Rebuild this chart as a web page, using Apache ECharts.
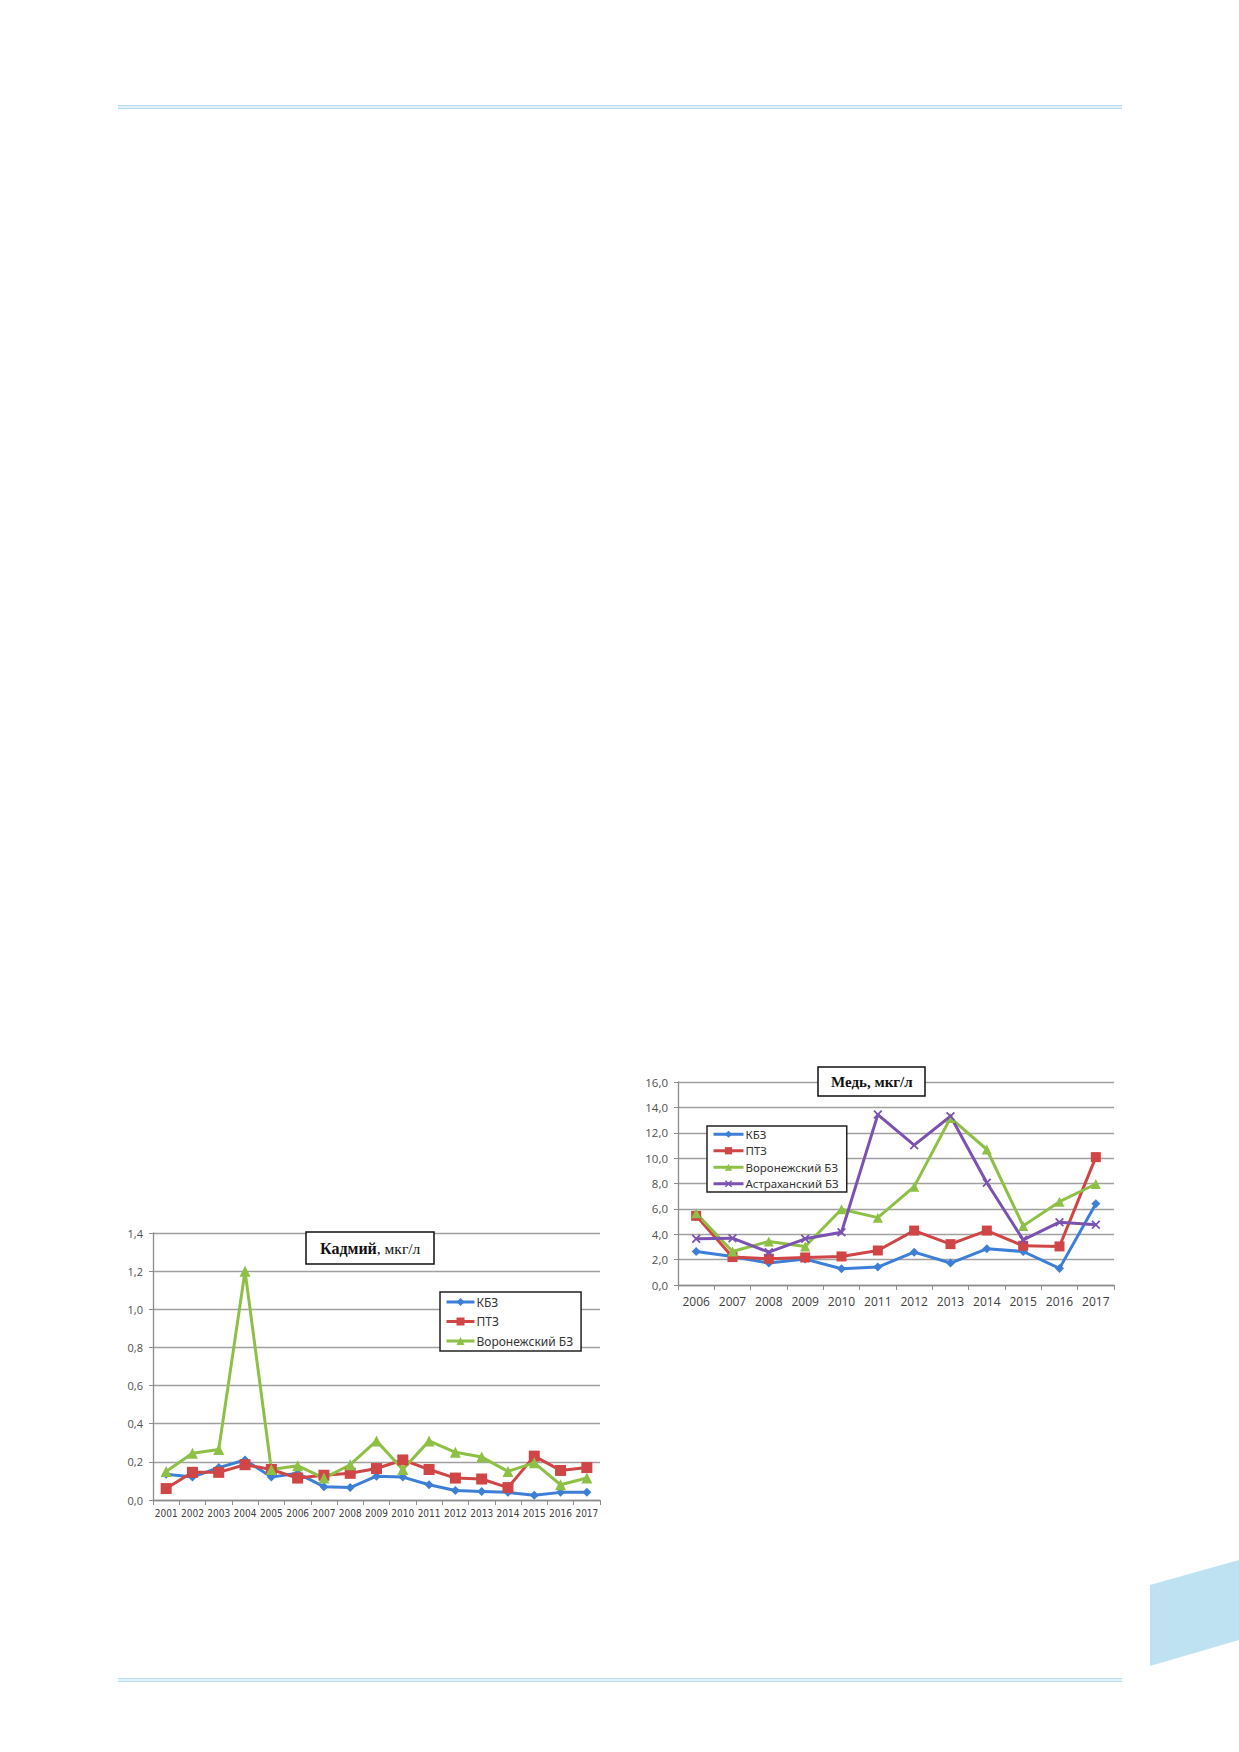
<!DOCTYPE html>
<html>
<head>
<meta charset="utf-8">
<script src="https://cdn.jsdelivr.net/npm/echarts@6/dist/echarts.min.js"></script>
<style>
  html, body { margin: 0; padding: 0; background: #fff; }
  #page { width: 1239px; height: 1752px; }
</style>
</head>
<body>
<div id="page"></div>
<script>
// Кадмий, мкг/л
var cdYears = ['2001','2002','2003','2004','2005','2006','2007','2008','2009','2010','2011','2012','2013','2014','2015','2016','2017'];
var cdKbz = [0.135, 0.12, 0.17, 0.21, 0.12, 0.14, 0.07, 0.065, 0.125, 0.12, 0.08, 0.05, 0.045, 0.04, 0.025, 0.04, 0.04];
var cdPtz = [0.06, 0.145, 0.145, 0.185, 0.16, 0.115, 0.13, 0.14, 0.165, 0.21, 0.16, 0.115, 0.11, 0.065, 0.23, 0.155, 0.17];
var cdVor = [0.15, 0.245, 0.265, 1.2, 0.16, 0.18, 0.115, 0.185, 0.31, 0.16, 0.31, 0.25, 0.225, 0.15, 0.195, 0.08, 0.115];
var cdTicks = ['0,0','0,2','0,4','0,6','0,8','1,0','1,2','1,4'];

// Медь, мкг/л
var cuYears = ['2006','2007','2008','2009','2010','2011','2012','2013','2014','2015','2016','2017'];
var cuKbz = [2.64, 2.25, 1.73, 2.04, 1.28, 1.41, 2.59, 1.73, 2.85, 2.64, 1.31, 6.41];
var cuPtz = [5.45, 2.2, 2.07, 2.17, 2.25, 2.72, 4.29, 3.22, 4.29, 3.09, 3.04, 10.08];
var cuVor = [5.65, 2.64, 3.43, 3.04, 5.97, 5.31, 7.75, 13.17, 10.68, 4.66, 6.57, 7.96];
var cuAst = [3.64, 3.69, 2.59, 3.64, 4.16, 13.43, 11.02, 13.3, 8.06, 3.56, 4.95, 4.74];
var cuTicks = ['0,0','2,0','4,0','6,0','8,0','10,0','12,0','14,0','16,0'];

var BLUE = '#3d7fd6', RED = '#d04545', GREEN = '#8dc045', PURPLE = '#7b52b0';
var xMark = 'path://M0,1.4 L1.4,0 L5,3.6 L8.6,0 L10,1.4 L6.4,5 L10,8.6 L8.6,10 L5,6.4 L1.4,10 L0,8.6 L3.6,5 Z';

var chart = echarts.init(document.getElementById('page'), null, { renderer: 'svg' });

function xAxisOf(idx, data, size, margin, font) {
    return {
        type: 'category', gridIndex: idx, data: data, boundaryGap: true,
        axisLine: { lineStyle: { color: '#8c8c8c', width: 1.3 } },
        axisTick: { show: true, length: 5, lineStyle: { color: '#8c8c8c' } },
        axisLabel: { color: '#404040', fontSize: size, margin: margin, fontFamily: font,
            interval: 0, hideOverlap: false },
        splitLine: { show: false }
    };
}
function yAxisOf(idx, max, step, ticks, size) {
    return {
        type: 'value', gridIndex: idx, min: 0, max: max, interval: step,
        axisLine: { show: true, lineStyle: { color: '#8c8c8c', width: 1.3 } },
        axisTick: { show: true, length: 4, lineStyle: { color: '#8c8c8c' } },
        axisLabel: { color: '#505050', fontSize: size, margin: 10, fontFamily: 'Open Sans',
            formatter: function (v, i) { return ticks[i]; } },
        splitLine: { lineStyle: { color: '#a0a0a0', width: 1.3 } }
    };
}
function line(name, data, color, symbol, size, axis) {
    return {
        name: name, type: 'line', xAxisIndex: axis, yAxisIndex: axis, data: data,
        symbol: symbol, symbolSize: size, showAllSymbol: true,
        lineStyle: { color: color, width: 3 },
        itemStyle: { color: color, borderWidth: 0 },
        emphasis: { disabled: true }, animation: false
    };
}

var option = {
    animation: false,
    backgroundColor: '#fff',
    grid: [
        { left: 153, top: 1233, width: 447, height: 267 },
        { left: 678, top: 1082, width: 436, height: 203 }
    ],
    xAxis: [xAxisOf(0, cdYears, 10, 8, 'DejaVu Sans Condensed'), xAxisOf(1, cuYears, 12, 10, 'Open Sans')],
    yAxis: [yAxisOf(0, 1.4, 0.2, cdTicks, 11), yAxisOf(1, 16, 2, cuTicks, 11.5)],
    title: [
        {
            text: '{b|Кадмий}{r|, мкг/л}', left: 306, top: 1232,
            padding: [8, 14], borderColor: '#111', borderWidth: 1.5, backgroundColor: '#fff',
            textStyle: { fontWeight: 'normal', rich: {
                b: { fontFamily: 'Liberation Serif', fontWeight: 'bold', fontSize: 16, color: '#111' },
                r: { fontFamily: 'Liberation Serif', fontWeight: 'normal', fontSize: 15.5, color: '#111' }
            } }
        },
        {
            text: 'Медь, мкг/л', left: 818, top: 1067,
            padding: [7, 13], borderColor: '#111', borderWidth: 1.5, backgroundColor: '#fff',
            textStyle: { fontFamily: 'Liberation Serif', fontWeight: 'bold', fontSize: 15, color: '#111' }
        }
    ],
    legend: [
        {
            data: ['КБЗ', 'ПТЗ', 'Воронежский БЗ'],
            orient: 'vertical', left: 440, top: 1292,
            itemWidth: 28, itemHeight: 10, itemGap: 5.5, padding: [3, 8, 3, 5],
            borderColor: '#222', borderWidth: 1.5, backgroundColor: '#fff',
            lineStyle: { width: 3 },
            textStyle: { fontFamily: 'Noto Sans', fontSize: 12, color: '#333', lineHeight: 14, padding: [0, 0, 0, -3] },
            selectedMode: false
        },
        {
            data: ['КБЗ ', 'ПТЗ ', 'Воронежский БЗ ', 'Астраханский БЗ'],
            orient: 'vertical', left: 707, top: 1126,
            itemWidth: 30, itemHeight: 9, itemGap: 4, padding: [2, 8, 2, 5],
            borderColor: '#222', borderWidth: 1.5, backgroundColor: '#fff',
            lineStyle: { width: 3 },
            textStyle: { fontFamily: 'Noto Sans', fontSize: 11.5, color: '#333', lineHeight: 12.5, padding: [0, 0, 0, -3] },
            selectedMode: false,
            formatter: function (n) { return n.replace(/ $/, ''); }
        }
    ],
    graphic: [
        { type: 'rect', shape: { x: 118, y: 105, width: 1004, height: 4 }, style: { fill: '#e3f2fa' }, silent: true },
        { type: 'line', shape: { x1: 118, y1: 105.5, x2: 1122, y2: 105.5 }, style: { stroke: '#b8ddef', lineWidth: 1 }, silent: true },
        { type: 'line', shape: { x1: 118, y1: 108.5, x2: 1122, y2: 108.5 }, style: { stroke: '#b8ddef', lineWidth: 1 }, silent: true },
        { type: 'rect', shape: { x: 118, y: 1678, width: 1004, height: 4 }, style: { fill: '#e3f2fa' }, silent: true },
        { type: 'line', shape: { x1: 118, y1: 1678.5, x2: 1122, y2: 1678.5 }, style: { stroke: '#b8ddef', lineWidth: 1 }, silent: true },
        { type: 'line', shape: { x1: 118, y1: 1681.5, x2: 1122, y2: 1681.5 }, style: { stroke: '#b8ddef', lineWidth: 1 }, silent: true },
        { type: 'polygon', shape: { points: [[1150, 1585], [1239, 1560], [1239, 1640], [1150, 1666]] }, style: { fill: '#bfe2f2' }, silent: true }
    ],
    series: [
        line('КБЗ', cdKbz, BLUE, 'diamond', 9, 0),
        line('ПТЗ', cdPtz, RED, 'rect', 11, 0),
        line('Воронежский БЗ', cdVor, GREEN, 'triangle', 11, 0),
        line('КБЗ ', cuKbz, BLUE, 'diamond', 9, 1),
        line('ПТЗ ', cuPtz, RED, 'rect', 10, 1),
        line('Воронежский БЗ ', cuVor, GREEN, 'triangle', 10, 1),
        line('Астраханский БЗ', cuAst, PURPLE, xMark, 9, 1)
    ]
};

chart.setOption(option);
</script>
</body>
</html>
